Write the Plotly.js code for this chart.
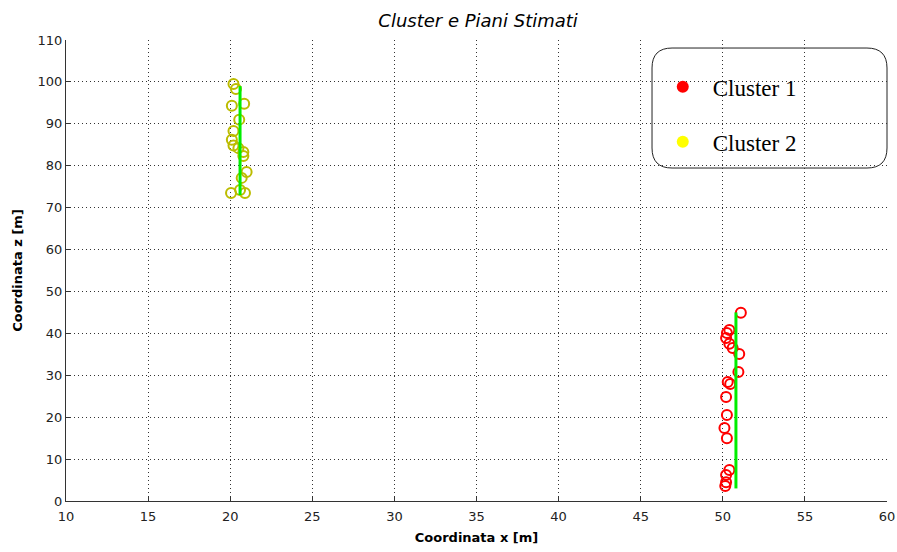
<!DOCTYPE html>
<html>
<head>
<meta charset="utf-8">
<script src="https://cdn.plot.ly/plotly-3.0.1.min.js"></script>
<style>
  html, body { margin: 0; padding: 0; background: #fff; }
  #chart { width: 897px; height: 552px; }
</style>
</head>
<body>
<div id="chart"></div>
<script>
// Cluster 1 points (x, z in metres)
const c1x = [51.1, 50.25, 50.4, 50.2, 50.4, 50.6, 51.0, 50.95, 50.3, 50.45, 50.2, 50.25, 50.1, 50.25, 50.4, 50.2, 50.2, 50.15];
const c1z = [44.9, 40.1, 40.8, 38.9, 37.5, 36.5, 35.1, 30.8, 28.4, 27.9, 24.8, 20.5, 17.4, 15.0, 7.4, 6.2, 4.5, 3.6];

// Cluster 2 points
const c2x = [20.2, 20.35, 20.1, 20.85, 20.55, 20.2, 20.1, 20.2, 20.5, 20.8, 20.8, 21.0, 20.7, 20.05, 20.9, 20.6];
const c2z = [99.5, 98.3, 94.3, 94.8, 91.0, 88.3, 86.2, 84.8, 84.2, 83.3, 82.3, 78.5, 77.1, 73.5, 73.5, 74.2];

// Estimated planes (vertical segments)
const p1x = [50.8, 50.8];
const p1z = [3.0, 45.0];
const p2x = [20.6, 20.6];
const p2z = [73.0, 99.0];

const legendNames = ['Cluster 1', 'Cluster 2'];

const traces = [
  { x: c1x, y: c1z, mode: 'markers', type: 'scatter', showlegend: false,
    marker: { symbol: 'circle-open', size: 10, color: '#ff0000', line: { width: 2, color: '#ff0000' } } },
  { x: c2x, y: c2z, mode: 'markers', type: 'scatter', showlegend: false,
    marker: { symbol: 'circle-open', size: 10, color: '#bcbc00', line: { width: 2, color: '#bcbc00' } } },
  { x: p1x, y: p1z, mode: 'lines', type: 'scatter', showlegend: false,
    line: { color: '#00ee00', width: 3 } },
  { x: p2x, y: p2z, mode: 'lines', type: 'scatter', showlegend: false,
    line: { color: '#00ee00', width: 3 } },
  // legend entries
  { x: [null], y: [null], mode: 'markers', type: 'scatter', name: legendNames[0], legendgroup: 'g1',
    marker: { symbol: 'circle', size: 11, color: '#ff0000' } },
  { x: [null], y: [null], mode: 'markers', type: 'scatter', name: legendNames[1], legendgroup: 'g2',
    marker: { symbol: 'circle', size: 11, color: '#ffff00' } }
];

const tickFont = { family: 'DejaVu Sans, sans-serif', size: 13, color: '#222' };
const titleFont = { family: 'DejaVu Sans, sans-serif', size: 13, color: '#000' };

const layout = {
  width: 897, height: 552,
  margin: { l: 66, r: 10, t: 40, b: 51 },
  paper_bgcolor: '#fff', plot_bgcolor: '#fff',
  title: { text: '<i>Cluster e Piani Stimati</i>', x: 0.533, xanchor: 'center', y: 0.963, yanchor: 'middle',
           font: { family: 'DejaVu Sans, sans-serif', size: 18, color: '#000' } },
  xaxis: {
    range: [10, 60], dtick: 5, tick0: 10,
    showgrid: true, gridcolor: '#333', griddash: '1px,3px', gridwidth: 1,
    zeroline: false, showline: true, linecolor: '#333', linewidth: 1,
    ticks: 'inside', ticklen: 5, tickcolor: '#333',
    tickfont: tickFont, ticklabelstandoff: 3,
    title: { text: '<b>Coordinata x [m]</b>', standoff: 10, font: titleFont }
  },
  yaxis: {
    range: [0, 110], dtick: 10,
    showgrid: true, gridcolor: '#333', griddash: '1px,3px', gridwidth: 1,
    zeroline: false, showline: true, linecolor: '#333', linewidth: 1,
    ticks: 'inside', ticklen: 5, tickcolor: '#333',
    tickfont: tickFont,
    title: { text: '<b>Coordinata z [m]</b>', standoff: 12, font: titleFont }
  },
  showlegend: true,
  legend: {
    x: 0.7147, y: 0.945, xanchor: 'left', yanchor: 'top',
    bgcolor: 'rgba(0,0,0,0)', borderwidth: 0,
    font: { family: 'Liberation Serif, Times New Roman, serif', size: 23, color: '#000' },
    itemsizing: 'constant', itemwidth: 50, tracegroupgap: 22
  },
  shapes: [{
    type: 'path', xref: 'paper', yref: 'paper',
    path: 'M 0.7382 0.9826 L 0.9756 0.9826 Q 1.0 0.9826 1.0 0.9393 L 1.0 0.7657 Q 1.0 0.7223 0.9756 0.7223 L 0.7382 0.7223 Q 0.7138 0.7223 0.7138 0.7657 L 0.7138 0.9393 Q 0.7138 0.9826 0.7382 0.9826 Z',
    line: { color: '#222', width: 1 }, fillcolor: '#ffffff', layer: 'below'
  }]
};

Plotly.newPlot('chart', traces, layout, { displayModeBar: false, staticPlot: true });
</script>
</body>
</html>
